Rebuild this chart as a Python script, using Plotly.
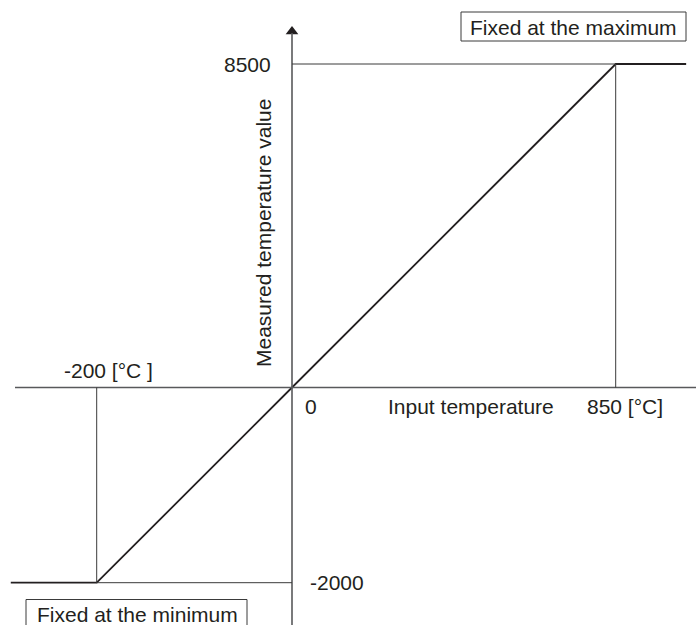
import plotly.graph_objects as go

# ---- data (schematic characteristic) ----
input_temp = [-288, -200, 0, 850, 1035]          # input temperature [°C]
measured_value = [-2000, -2000, 0, 8500, 8500]   # measured temperature value
x_marks = [-200, 0, 850]
x_mark_labels = ["-200 [°C ]", "0", "850 [°C]"]
y_marks = [8500, -2000]
y_mark_labels = ["8500", "-2000"]
x_title = "Input temperature"
y_title = "Measured temperature value"
box_max_text = "Fixed at the maximum"
box_min_text = "Fixed at the minimum"

# ---- schematic (piecewise) scale: pixels from origin ----
SX_POS, SX_NEG = 323.7 / 850, 195.3 / 200
SY_POS, SY_NEG = 323.5 / 8500, 195.2 / 2000


def mx(v):
    return v * SX_POS if v >= 0 else v * SX_NEG


def my(v):
    return v * SY_POS if v >= 0 else v * SY_NEG


OX, OY = 292, 387.5  # origin pixel position
W, H = 696, 625

TXT = "#231f20"
AXC = "#58595b"
FONT = dict(family="Liberation Sans, Arial, sans-serif", size=21, color=TXT)

fig = go.Figure()

shapes = []
# axes
shapes.append(dict(type="line", xref="x", yref="y", x0=15 - OX, x1=W - OX, y0=0, y1=0,
                   line=dict(color=AXC, width=1.6)))
shapes.append(dict(type="line", xref="x", yref="y", x0=0, x1=0, y0=-(H + 5 - OY), y1=OY - 33,
                   line=dict(color=AXC, width=1.6)))
# reference lines
xmax, ymax = mx(x_marks[2]), my(y_marks[0])
xmin, ymin = mx(x_marks[0]), my(y_marks[1])
for x0, x1, y0, y1 in [(0, xmax, ymax, ymax), (xmax, xmax, ymax, 0),
                       (xmin, xmin, 0, ymin), (xmin, 0, ymin, ymin)]:
    shapes.append(dict(type="line", xref="x", yref="y", x0=x0, x1=x1, y0=y0, y1=y1,
                       line=dict(color="#3a3a3a", width=1)))
# label boxes
shapes.append(dict(type="rect", xref="x", yref="y", x0=461 - OX, x1=686 - OX,
                   y0=OY - 12, y1=OY - 41, line=dict(color="#3a3a3a", width=1)))
shapes.append(dict(type="rect", xref="x", yref="y", x0=26 - OX, x1=247 - OX,
                   y0=OY - 599.5, y1=OY - 640, line=dict(color="#3a3a3a", width=1)))

# characteristic line
fig.add_trace(go.Scatter(x=[mx(v) for v in input_temp], y=[my(v) for v in measured_value],
                         mode="lines", line=dict(color=TXT, width=1.8),
                         hoverinfo="skip", showlegend=False))
# arrow head of vertical axis
fig.add_trace(go.Scatter(x=[0], y=[OY - 31.5], mode="markers",
                         marker=dict(symbol="triangle-up", size=11, color=TXT, line=dict(width=0)),
                         hoverinfo="skip", showlegend=False))

ann = []
# x labels
ann.append(dict(x=mx(x_marks[0]) - 35, y=OY - 370, text=x_mark_labels[0], xanchor="left"))
ann.append(dict(x=11, y=OY - 406.5, text=x_mark_labels[1], xanchor="left"))
ann.append(dict(x=mx(x_marks[2]) - 31, y=OY - 406.5, text=x_mark_labels[2], xanchor="left"))
ann.append(dict(x=386 - OX, y=OY - 406.5, text=x_title, xanchor="left"))
# y labels
ann.append(dict(x=-19, y=my(y_marks[0]), text=y_mark_labels[0], xanchor="right"))
ann.append(dict(x=16, y=my(y_marks[1]), text=y_mark_labels[1], xanchor="left"))
ann.append(dict(x=263 - OX, y=OY - 233, text=y_title, textangle=-90, xanchor="center"))
# boxes text
ann.append(dict(x=573.5 - OX, y=OY - 27, text=box_max_text, xanchor="center"))
ann.append(dict(x=35 - OX, y=OY - 614.5, text=box_min_text, xanchor="left"))
for a in ann:
    a.update(xref="x", yref="y", showarrow=False, yanchor="middle", font=FONT)

fig.update_layout(
    width=W, height=H, margin=dict(l=0, r=0, t=0, b=0),
    paper_bgcolor="white", plot_bgcolor="white",
    xaxis=dict(range=[-OX, W - OX], visible=False, fixedrange=True),
    yaxis=dict(range=[-(H - OY), OY], visible=False, fixedrange=True),
    shapes=shapes, annotations=ann, showlegend=False,
)

fig.write_html("out.html")
